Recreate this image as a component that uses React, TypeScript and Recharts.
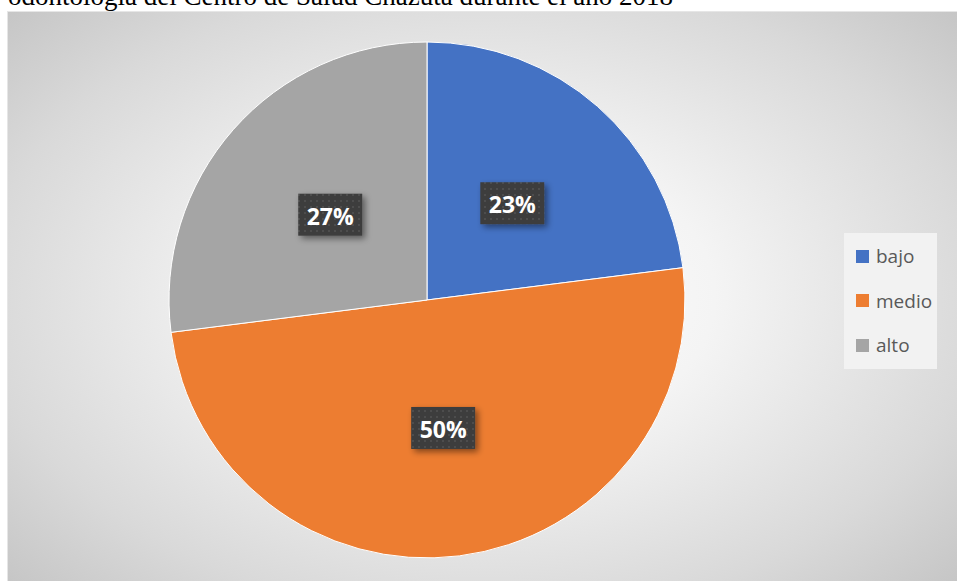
import React from "react";
import { PieChart, Pie, Cell, Legend } from "recharts";

// niveles y porcentajes
const categories = ["bajo", "medio", "alto"];
const values = [23, 50, 27];
const colors = ["#4472C4", "#ED7D31", "#A5A5A5"];

const TITLE = "odontología del Centro de Salud Chazuta durante el año 2018";

const data = categories.map((name, i) => ({ name, value: values[i] }));

const RAD = Math.PI / 180;

// etiqueta tipo caja oscura con texto blanco
const renderLabel = (props: any) => {
    const { cx, cy, midAngle, outerRadius, percent } = props;
    const r = outerRadius * 0.5;
    const x = cx + r * Math.cos(-midAngle * RAD);
    const y = cy + r * Math.sin(-midAngle * RAD);
    const w = 64;
    const h = 42;
    return (
        <g>
            <rect
                x={x - w / 2}
                y={y - h / 2}
                width={w}
                height={h}
                fill="url(#dots)"
                filter="url(#lblShadow)"
            />
            <text
                x={x}
                y={y + 1}
                fill="#fff"
                textAnchor="middle"
                dominantBaseline="central"
                fontFamily="'Open Sans', 'Noto Sans', sans-serif"
                fontWeight={700}
                fontSize={23}
            >
                {`${Math.round(percent * 100)}%`}
            </text>
        </g>
    );
};

// leyenda en el orden original (no alfabetico)
const LegendBox = ({ payload }: any) => {
    const items = [...(payload || [])].sort(
        (a: any, b: any) => categories.indexOf(a.value) - categories.indexOf(b.value)
    );
    return (
        <div
            style={{
                background: "#f2f2f2",
                width: 93,
                height: 136,
                boxSizing: "border-box",
                paddingTop: 1,
                paddingLeft: 12,
            }}
        >
            {items.map((p: any) => (
                <div
                    key={p.value}
                    style={{
                        display: "flex",
                        alignItems: "center",
                        height: 44.5,
                        fontFamily: "'Open Sans', 'Noto Sans', sans-serif",
                        fontSize: 19,
                        color: "#595959",
                    }}
                >
                    <span
                        style={{
                            width: 13,
                            height: 13,
                            background: p.color,
                            marginRight: 7,
                            display: "inline-block",
                        }}
                    />
                    {p.value}
                </div>
            ))}
        </div>
    );
};

export default function App() {
    return (
        <div
            style={{
                position: "absolute",
                left: 0,
                top: 0,
                width: 957,
                height: 581,
                overflow: "hidden",
                background: "#fff",
            }}
        >
            <div
                style={{
                    position: "absolute",
                    left: 8,
                    top: -17,
                    fontFamily: "'Liberation Serif', 'Times New Roman', serif",
                    fontSize: 27,
                    lineHeight: "27px",
                    color: "#000",
                    whiteSpace: "nowrap",
                }}
            >
                {TITLE}
            </div>
            <div
                style={{
                    position: "absolute",
                    left: 7,
                    top: 11,
                    width: 950,
                    height: 570,
                    boxSizing: "border-box",
                    borderLeft: "1px solid #e6e6e6",
                    borderTop: "1px solid #e6e6e6",
                    background:
                        "radial-gradient(ellipse 70% 75% at 50% 50%, #ffffff 0%, #f4f4f4 35%, #d9d9d9 75%, #c4c4c4 100%)",
                }}
            >
                <PieChart width={950} height={570} margin={{ top: 0, right: 0, bottom: 0, left: 0 }}>
                    <defs>
                        <pattern id="dots" width="6" height="6" patternUnits="userSpaceOnUse">
                            <rect width="6" height="6" fill="#3d3d3d" />
                            <rect x="2" y="2" width="2" height="2" fill="#4e4e4e" />
                        </pattern>
                        <filter id="lblShadow" x="-20%" y="-20%" width="150%" height="160%">
                            <feDropShadow dx="3" dy="3" stdDeviation="3" floodColor="#000" floodOpacity="0.45" />
                        </filter>
                    </defs>
                    <Pie
                        data={data}
                        dataKey="value"
                        nameKey="name"
                        cx={419}
                        cy={288}
                        outerRadius={258}
                        startAngle={90}
                        endAngle={-270}
                        stroke="#fff"
                        strokeWidth={1}
                        label={renderLabel}
                        labelLine={false}
                        isAnimationActive={false}
                    >
                        {data.map((d, i) => (
                            <Cell key={d.name} fill={colors[i]} />
                        ))}
                    </Pie>
                    <Legend
                        content={<LegendBox />}
                        wrapperStyle={{ position: "absolute", left: 836, top: 221, width: 93 }}
                    />
                </PieChart>
            </div>
        </div>
    );
}
